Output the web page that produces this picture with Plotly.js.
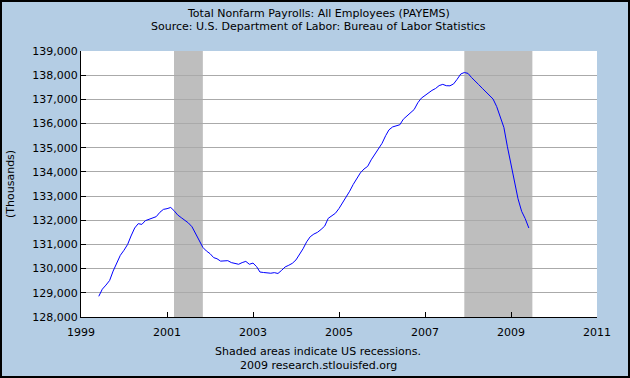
<!DOCTYPE html>
<html>
<head>
<meta charset="utf-8">
<script src="https://cdn.plot.ly/plotly-3.0.1.min.js"></script>
<style>
  html, body { margin: 0; padding: 0; background: #b4cde4; }
  #wrap { position: relative; width: 630px; height: 378px; }
  #chart { width: 630px; height: 378px; }
  #frame { position: absolute; left: 0; top: 0; width: 630px; height: 378px; box-sizing: border-box; border: 2px solid #000; pointer-events: none; }
</style>
</head>
<body>
<div id="wrap"><div id="chart"></div><div id="frame"></div></div>
<script>
// Monthly series start (first observation) — Jun 1999 through Jun 2009
const startYear = 1999;
const startMonth = 6;

// Total Nonfarm Payrolls (thousands)
const payems = [
  128855, 129150, 129320, 129510, 129900, 130250, 130550,           // Jun–Dec 1999
  130760, 131000, 131350, 131680, 131860, 131830, 131985, 132040, 132090, 132150, 132330, 132450, // 2000
  132480, 132530, 132400, 132220, 132110, 132010, 131890, 131730, 131460, 131140, 130880, 130730, // 2001
  130620, 130455, 130410, 130310, 130320, 130330, 130250, 130225, 130180, 130250, 130300, 130180, // 2002
  130230, 130080, 129860, 129840, 129830, 129810, 129835, 129800, 129930, 130070, 130140, 130220, // 2003
  130360, 130580, 130820, 131110, 131320, 131430, 131500, 131620, 131760, 132080, 132190, 132290, // 2004
  132490, 132720, 132940, 133200, 133480, 133720, 133960, 134120, 134230, 134500, 134730, 134920, // 2005
  135180, 135500, 135740, 135860, 135900, 135950, 136180, 136320, 136450, 136580, 136860, 137050, // 2006
  137160, 137280, 137370, 137450, 137570, 137620, 137565, 137560, 137640, 137830, 138050, 138110, // 2007
  138075, 137900, 137740, 137610, 137460, 137310, 137160, 137015, 136700, 136290, 135840, 135040, // 2008
  134280, 133650, 132890, 132370, 132070, 131680                      // Jan–Jun 2009
];

// Recession periods (shaded)
const recStart = ['2001-03-01', '2007-12-01'];
const recEnd   = ['2001-11-01', '2009-07-01'];

// Axis ticks
const yTicks = [128000, 129000, 130000, 131000, 132000, 133000, 134000, 135000, 136000, 137000, 138000, 139000];
const xRange = ['1999-01-01', '2011-01-01'];

const titleLines = ['Total Nonfarm Payrolls: All Employees (PAYEMS)',
                    'Source: U.S. Department of Labor: Bureau of Labor Statistics'];
const yTitle = '(Thousands)';
const footer1 = 'Shaded areas indicate US recessions.';
const footer2 = '2009 research.stlouisfed.org';

const dates = payems.map((v, i) => {
  const m0 = startMonth - 1 + i;
  const y = startYear + Math.floor(m0 / 12);
  const m = (m0 % 12) + 1;
  return y + '-' + String(m).padStart(2, '0') + '-01';
});

const FONT = 'DejaVu Sans, Verdana, sans-serif';
const W = 630, H = 378;
const L = 81, R = 33, T = 51, B = 61;
const plotW = W - L - R, plotH = H - T - B;
const px = x => (x - L) / plotW;          // container pixel -> paper x
const py = y => (H - B - y) / plotH;      // container pixel -> paper y

const shapes = recStart.map((s, i) => ({
  type: 'rect', xref: 'x', yref: 'paper', x0: s, x1: recEnd[i], y0: 0, y1: 1,
  fillcolor: '#bebebe', line: { width: 0 }, layer: 'between'
}));

const data = [{
  x: dates, y: payems, type: 'scatter', mode: 'lines',
  line: { color: '#0000ff', width: 1 }, hoverinfo: 'skip'
}];

const txt = { family: FONT, size: 11, color: '#000' };
const ann = (text, x, y, extra) => Object.assign({
  text, xref: 'paper', yref: 'paper', x: px(x), y: py(y),
  xanchor: 'center', yanchor: 'middle', showarrow: false, font: txt
}, extra || {});

const layout = {
  width: W, height: H,
  paper_bgcolor: '#b4cde4', plot_bgcolor: '#ffffff',
  margin: { l: L, r: R, t: T, b: B },
  showlegend: false,
  font: txt,
  xaxis: {
    type: 'date', range: xRange, dtick: 'M24', tick0: '1999-01-01', tickformat: '%Y',
    showgrid: false, zeroline: false,
    showline: true, linecolor: '#000', linewidth: 1,
    ticks: 'inside', ticklen: 5, tickcolor: '#000',
    ticklabelstandoff: 5,
    tickfont: txt
  },
  yaxis: {
    range: [128000, 139000], tickvals: yTicks, tickformat: ',d',
    showgrid: true, gridcolor: '#aaaaaa', gridwidth: 1, zeroline: false,
    showline: true, linecolor: '#000', linewidth: 1,
    ticks: 'inside', ticklen: 5, tickcolor: '#000',
    tickfont: txt
  },
  shapes: shapes,
  annotations: [
    ann(titleLines[0], 318, 13),
    ann(titleLines[1], 318, 26),
    ann(yTitle, 10, 184, { textangle: -90 }),
    ann(footer1, 318, 351),
    ann(footer2, 318, 365)
  ]
};

Plotly.newPlot('chart', data, layout, { displayModeBar: false, staticPlot: true });
</script>
</body>
</html>
